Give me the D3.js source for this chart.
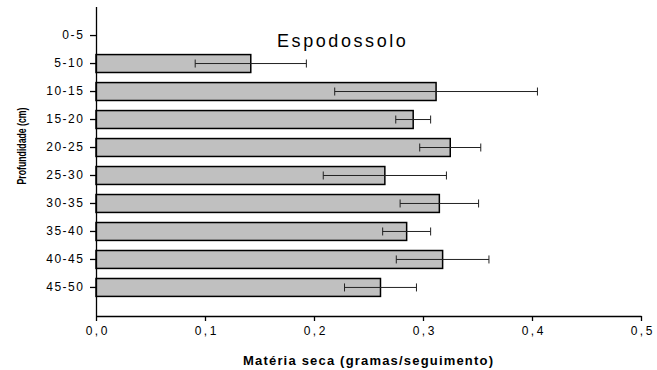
<!DOCTYPE html>
<html lang="pt">
<head>
<meta charset="UTF-8">
<title>Espodossolo</title>
<script src="https://d3js.org/d3.v7.min.js"></script>
<style>
    body {
        margin: 0;
        background: #fff;
        font-family: "Liberation Sans", Arial, sans-serif;
    }
    .axis path, .axis line {
        stroke: #000;
        stroke-width: 1.3px;
    }
    .axis text {
        font-family: "Liberation Sans", Arial, sans-serif;
        font-size: 12px;
        fill: #000;
    }
</style>
</head>
<body>
<div id="chart"></div>
<script>
    // profundidade (cm)
    var depths = ['0-5', '5-10', '10-15', '15-20', '20-25', '25-30', '30-35', '35-40', '40-45', '45-50'];
    // materia seca media (g) - 0-5 sem valor
    var means = [null, 0.142, 0.312, 0.291, 0.325, 0.265, 0.315, 0.285, 0.318, 0.261];
    // desvio (meia largura da barra de erro)
    var errs = [null, 0.051, 0.093, 0.016, 0.028, 0.0565, 0.036, 0.022, 0.0425, 0.033];
    var xTicks = [0, 0.1, 0.2, 0.3, 0.4, 0.5];

    var w = 657, h = 370;
    var m = {top: 7, left: 96, right: 16, bottom: 54};
    var innerW = w - m.left - m.right;
    var innerH = h - m.top - m.bottom;

    var data = depths.map(function(d, i){
        return {depth: d, mean: means[i], err: errs[i]};
    });

    var x = d3.scaleLinear().domain([0, 0.5]).range([0, innerW]);
    var y = d3.scaleBand().domain(depths).range([0, innerH])
              .paddingInner(0.36).paddingOuter(0.7);

    var svg = d3.select('#chart').append('svg')
                .attr('width', w)
                .attr('height', h);

    var g = svg.append('g').attr('transform', 'translate(' + m.left + ',' + m.top + ')');

    var fmt = function(d){ return d3.format('.1f')(d).replace('.', ','); };

    // bars
    var withVal = data.filter(function(d){ return d.mean != null; });
    g.selectAll('rect.bar')
        .data(withVal)
        .enter()
        .append('rect')
        .attr('class', 'bar')
        .attr('x', x(0))
        .attr('y', function(d){ return y(d.depth); })
        .attr('width', function(d){ return x(d.mean) - x(0); })
        .attr('height', y.bandwidth())
        .style('fill', '#c0c0c0')
        .style('stroke', '#000')
        .style('stroke-width', 1.5);

    // error bars
    var eb = g.selectAll('g.err')
        .data(withVal)
        .enter()
        .append('g')
        .attr('class', 'err')
        .attr('transform', function(d){ return 'translate(0,' + (y(d.depth) + y.bandwidth() / 2) + ')'; })
        .style('stroke', '#222')
        .style('stroke-width', 1);
    eb.append('line')
        .attr('x1', function(d){ return x(d.mean - d.err); })
        .attr('x2', function(d){ return x(d.mean + d.err); });
    eb.append('line')
        .attr('x1', function(d){ return x(d.mean - d.err); })
        .attr('x2', function(d){ return x(d.mean - d.err); })
        .attr('y1', -4).attr('y2', 4);
    eb.append('line')
        .attr('x1', function(d){ return x(d.mean + d.err); })
        .attr('x2', function(d){ return x(d.mean + d.err); })
        .attr('y1', -4).attr('y2', 4);

    // axes
    var xAxis = g.append('g')
        .attr('class', 'axis')
        .attr('transform', 'translate(0,' + innerH + ')')
        .call(d3.axisBottom(x).tickValues(xTicks).tickFormat(fmt).tickSize(5).tickSizeOuter(0));
    xAxis.selectAll('text').attr('y', 10);

    var yAxis = g.append('g')
        .attr('class', 'axis')
        .call(d3.axisLeft(y).tickSize(6).tickSizeOuter(0));
    yAxis.select('.domain').attr('d', 'M0.5,0V' + innerH);
    yAxis.selectAll('text').attr('x', -13);

    // stretch labels like the original
    function stretch(sel, k){
        sel.each(function(){
            var len = this.getComputedTextLength();
            d3.select(this).attr('textLength', len * k).attr('lengthAdjust', 'spacing');
        });
    }
    stretch(xAxis.selectAll('text'), 1.3);
    stretch(yAxis.selectAll('text'), 1.2);

    // title
    var title = svg.append('text')
        .attr('x', 277)
        .attr('y', 47)
        .style('font-size', '18px')
        .style('fill', '#000')
        .text('Espodossolo');
    stretch(title, 1.25);

    // axis titles
    svg.append('text')
        .attr('x', 368)
        .attr('y', 365)
        .attr('text-anchor', 'middle')
        .style('font-size', '13px')
        .style('font-weight', 'bold')
        .attr('textLength', 250)
        .attr('lengthAdjust', 'spacing')
        .text('Matéria seca (gramas/seguimento)');

    svg.append('text')
        .attr('transform', 'translate(26,146) rotate(-90)')
        .attr('text-anchor', 'middle')
        .style('font-size', '13px')
        .style('font-weight', 'bold')
        .attr('textLength', 77)
        .attr('lengthAdjust', 'spacingAndGlyphs')
        .text('Profundidade (cm)');
</script>
</body>
</html>
